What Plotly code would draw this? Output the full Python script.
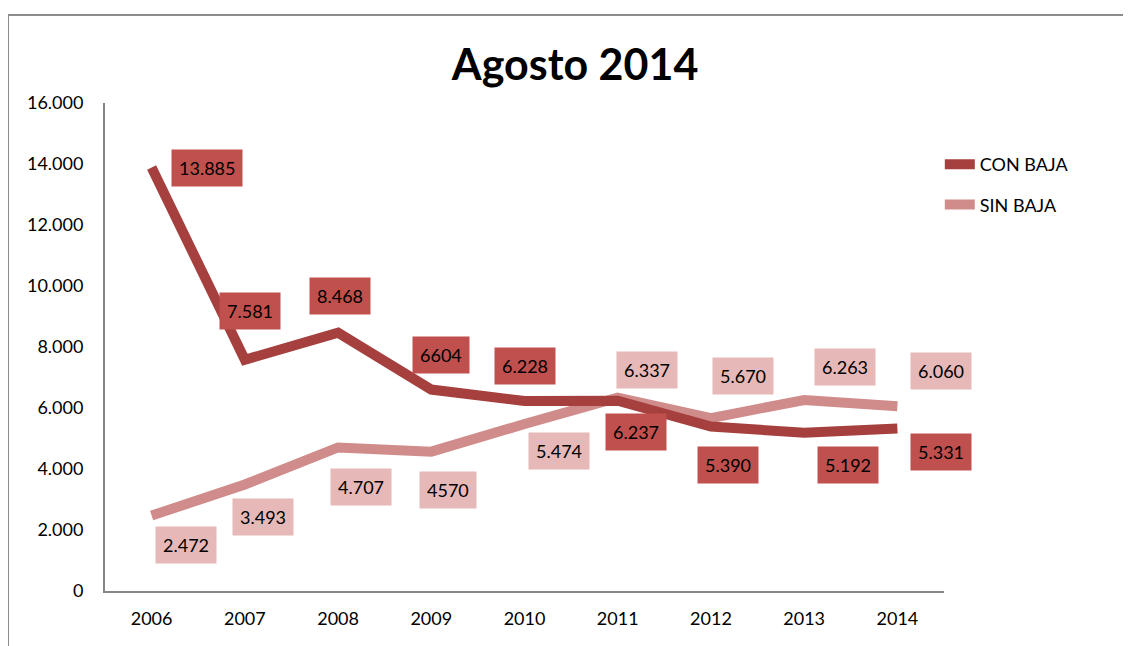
import plotly.graph_objects as go

years = ["2006", "2007", "2008", "2009", "2010", "2011", "2012", "2013", "2014"]
con_baja = [13885, 7581, 8468, 6604, 6228, 6237, 5390, 5192, 5331]
sin_baja = [2472, 3493, 4707, 4570, 5474, 6337, 5670, 6263, 6060]
con_labels = ["13.885", "7.581", "8.468", "6604", "6.228", "6.237", "5.390", "5.192", "5.331"]
sin_labels = ["2.472", "3.493", "4.707", "4570", "5.474", "6.337", "5.670", "6.263", "6.060"]
y_tickvals = [0, 2000, 4000, 6000, 8000, 10000, 12000, 14000, 16000]
y_ticktext = ["0", "2.000", "4.000", "6.000", "8.000", "10.000", "12.000", "14.000", "16.000"]

# label offsets (pixels) relative to each point
con_shift = [(55, 0), (5, 49), (2, 37), (10, 35), (0, 35), (18, -31), (17, -38), (44, -32), (44, -24)]
sin_shift = [(34, -29), (18, -33), (23, -40), (17, -38), (34, -27), (29, 28), (32, 42), (41, 33), (44, 35)]

CON_LINE = "#A5403E"
CON_BOX = "#C0504D"
SIN_LINE = "#D08C8B"
SIN_BOX = "#E6B9B8"
FONT = "Lato"

fig = go.Figure()
fig.add_trace(go.Scatter(x=years, y=sin_baja, mode="lines", name="SIN BAJA",
                         line=dict(color=SIN_LINE, width=10), legendgroup="b", legendrank=2))
fig.add_trace(go.Scatter(x=years, y=con_baja, mode="lines", name="CON BAJA",
                         line=dict(color=CON_LINE, width=10), legendgroup="a", legendrank=1))

annotations = []
for i, (v, lbl, (dx, dy)) in enumerate(zip(con_baja, con_labels, con_shift)):
    annotations.append(dict(x=i, y=v, xref="x", yref="y", text=lbl, showarrow=False,
                            xshift=dx, yshift=dy, bgcolor=CON_BOX, borderpad=7,
                            font=dict(family=FONT, size=18, color="#000000")))
for i, (v, lbl, (dx, dy)) in enumerate(zip(sin_baja, sin_labels, sin_shift)):
    annotations.append(dict(x=i, y=v, xref="x", yref="y", text=lbl, showarrow=False,
                            xshift=dx, yshift=dy, bgcolor=SIN_BOX, borderpad=7,
                            font=dict(family=FONT, size=18, color="#000000")))

# page has an 8px body margin, so the figure is 8px smaller and offset
fig.update_layout(
    width=1123, height=638,
    margin=dict(l=97, r=187, t=95, b=55, autoexpand=False),
    paper_bgcolor="white", plot_bgcolor="white",
    font=dict(family=FONT, size=18, color="#000000"),
    title=dict(text="<b>Agosto 2014</b>", x=0.505, xanchor="center", y=0.910, yanchor="middle",
               xref="container", yref="container",
               font=dict(family=FONT, size=43, color="#000000")),
    showlegend=True,
    legend=dict(x=0.995, xanchor="left", y=0.912, yanchor="top",
                traceorder="grouped", tracegroupgap=14,
                font=dict(family=FONT, size=18, color="#000000"),
                bgcolor="rgba(0,0,0,0)"),
    annotations=annotations,
    shapes=[dict(type="rect", xref="paper", yref="paper",
                 x0=-0.1156, x1=1.25, y0=-0.15, y1=1.1803,
                 line=dict(color="#8C8C8C", width=2), fillcolor="rgba(0,0,0,0)", layer="below")],
)
fig.update_xaxes(type="category", range=[-0.5, 8.5], showgrid=False, zeroline=False,
                 showline=True, linecolor="#868686", linewidth=2, ticks="",
                 ticklabelstandoff=10, tickfont=dict(family=FONT, size=18))
fig.update_yaxes(range=[0, 16000], tickvals=y_tickvals, ticktext=y_ticktext,
                 showgrid=False, zeroline=False, showline=True, linecolor="#868686",
                 linewidth=2, ticks="", ticklabelstandoff=16, tickfont=dict(family=FONT, size=18))

fig.write_html("out.html")
